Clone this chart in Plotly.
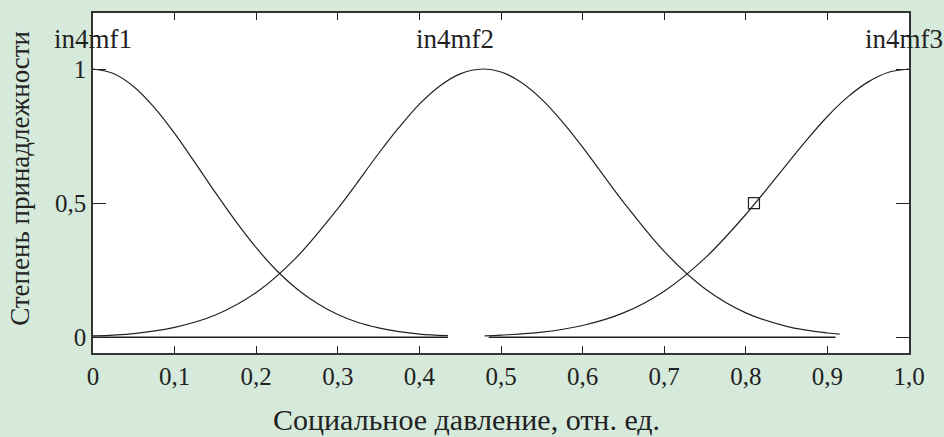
import plotly.graph_objects as go

# membership functions, values
mf1_x = [0, 0.025, 0.05, 0.075, 0.1, 0.125, 0.15, 0.175, 0.2, 0.225, 0.25,
         0.275, 0.3, 0.325, 0.35, 0.375, 0.4, 0.435]
mf1_y = [1.0, 0.983, 0.934, 0.857, 0.760, 0.651, 0.539, 0.432, 0.334, 0.249, 0.180,
         0.126, 0.085, 0.055, 0.035, 0.021, 0.012, 0.006]

mf2_x = [0, 0.05, 0.1, 0.15, 0.2, 0.25, 0.3, 0.35, 0.375, 0.4, 0.425, 0.45, 0.478, 0.5,
         0.525, 0.55, 0.575, 0.6, 0.65, 0.7, 0.75, 0.8, 0.85, 0.9, 0.915]
mf2_y = [0.005, 0.014, 0.037, 0.083, 0.167, 0.300, 0.480, 0.685, 0.782, 0.869, 0.937, 0.982,
         1.0, 0.989, 0.950, 0.887, 0.804, 0.709, 0.504, 0.320, 0.181, 0.091, 0.041, 0.016, 0.012]

mf3_x = [0.48, 0.5, 0.55, 0.6, 0.65, 0.7, 0.75, 0.8, 0.85, 0.875, 0.9, 0.925, 0.95, 0.975, 1.0]
mf3_y = [0.005, 0.008, 0.019, 0.044, 0.091, 0.172, 0.295, 0.458, 0.644, 0.737, 0.823, 0.896,
         0.952, 0.988, 1.0]

base1_x = [0, 0.435]
base2_x = [0.485, 0.91]
base_y = [0, 0]

point_x = [0.81]
point_y = [0.5]

mf_names = ["in4mf1", "in4mf2", "in4mf3"]
mf_label_x = [0.0, 0.444, 0.994]

x_ticks = [0, 0.1, 0.2, 0.3, 0.4, 0.5, 0.6, 0.7, 0.8, 0.9, 1.0]
x_labels = ["0", "0,1", "0,2", "0,3", "0,4", "0,5", "0,6", "0,7", "0,8", "0,9", "1,0"]
y_ticks = [0, 0.5, 1]
y_labels = ["0", "0,5", "1"]

bg = "#d6eadc"
ink = "#222222"
font = "Liberation Serif, Times New Roman, serif"

fig = go.Figure()
line = dict(color=ink, width=1.2)
fig.add_trace(go.Scatter(x=base1_x, y=base_y, mode="lines", line=dict(color=ink, width=1.5)))
fig.add_trace(go.Scatter(x=base2_x, y=base_y, mode="lines", line=dict(color=ink, width=1.5)))
fig.add_trace(go.Scatter(x=mf1_x, y=mf1_y, mode="lines", line=line, line_shape="spline"))
fig.add_trace(go.Scatter(x=mf2_x, y=mf2_y, mode="lines", line=line, line_shape="spline"))
fig.add_trace(go.Scatter(x=mf3_x, y=mf3_y, mode="lines", line=line, line_shape="spline"))
fig.add_trace(go.Scatter(x=point_x, y=point_y, mode="markers",
                         marker=dict(symbol="square-open", size=11, color=ink,
                                     line=dict(width=1.2, color=ink))))

for name, lx in zip(mf_names, mf_label_x):
    fig.add_annotation(x=lx, y=1.112, xref="x", yref="y", text=name, showarrow=False,
                       xanchor="center", yanchor="middle",
                       font=dict(family=font, size=27, color=ink))

fig.add_annotation(x=0.458, y=-0.197, xref="paper", yref="paper",
                   text="Социальное давление, отн. ед.", showarrow=False,
                   xanchor="center", yanchor="middle",
                   font=dict(family=font, size=30, color=ink))
fig.add_annotation(x=-0.0895, y=0.515, xref="paper", yref="paper",
                   text="Степень принадлежности", showarrow=False, textangle=-90,
                   xanchor="center", yanchor="middle",
                   font=dict(family=font, size=27, color=ink))

fig.update_xaxes(range=[0, 1], tickvals=x_ticks, ticktext=x_labels, ticks="inside",
                 ticklen=7, tickwidth=1.3, tickcolor=ink, showline=True, linecolor="#333333",
                 linewidth=1.6, mirror="ticks", showgrid=False, zeroline=False,
                 tickfont=dict(family=font, size=25, color=ink))
fig.update_yaxes(range=[-0.0585, 1.2087], tickvals=y_ticks, ticktext=y_labels, ticks="inside",
                 ticklen=13, tickwidth=1.3, tickcolor=ink, showline=True, linecolor="#333333",
                 linewidth=1.6, mirror="ticks", showgrid=False, zeroline=False,
                 tickfont=dict(family=font, size=25, color=ink))

fig.update_layout(width=944, height=437, showlegend=False,
                  paper_bgcolor=bg, plot_bgcolor="white",
                  margin=dict(l=93, r=35, t=13, b=84))

fig.write_html("out.html", config={"displayModeBar": False},
               post_script="document.body.style.margin='0';")
